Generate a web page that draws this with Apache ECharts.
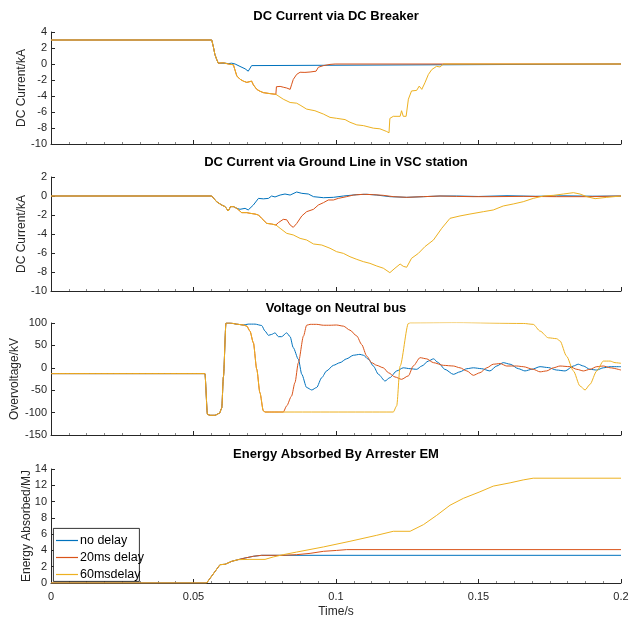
<!DOCTYPE html>
<html>
<head>
<meta charset="utf-8">
<script src="https://cdn.jsdelivr.net/npm/echarts@6/dist/echarts.min.js"></script>
<style>html,body{margin:0;padding:0;background:#fff}#c{width:629px;height:620px}</style>
</head>
<body>
<div id="c"></div>
<script>
// ---------- DATA ----------
const seriesNames = ['no delay', '20ms delay', '60msdelay'];
const titles = ['DC Current via DC Breaker', 'DC Current via Ground Line in VSC station', 'Voltage on Neutral bus', 'Energy Absorbed By Arrester EM'];
const yNames = ['DC Current/kA', 'DC Current/kA', 'Overvoltage/kV', 'Energy Absorbed/MJ'];
const xTicks = [0, 0.05, 0.1, 0.15, 0.2];

// Plot 1: DC current via DC breaker
const brkNoT = [0, 0.0564, 0.0570, 0.0575, 0.0581, 0.0587, 0.0593, 0.0611, 0.0622, 0.0634, 0.0646, 0.0663, 0.0681, 0.0692, 0.0698, 0.0704, 0.0708, 0.2];
const brkNoV = [3, 3, 2.1, 1.2, 0.6, 0.1, 0, 0.1, 0.05, 0.1, 0, -0.3, -0.6, -0.9, -0.7, -0.2, 0, 0];
const brk20T = [0, 0.0564, 0.0570, 0.0575, 0.0581, 0.0587, 0.0593, 0.0605, 0.0622, 0.0640, 0.0652, 0.0663, 0.0675, 0.0687, 0.0692, 0.0704, 0.0710, 0.0722, 0.0733, 0.0745, 0.0768, 0.0789, 0.0791, 0.0804, 0.0815, 0.0827, 0.0839, 0.0844, 0.0850, 0.0862, 0.0874, 0.0891, 0.0909, 0.0930, 0.0938, 0.0956, 0.0979, 0.0997, 0.2];
const brk20V = [3, 3, 2.1, 1.2, 0.6, 0.1, 0.1, 0.15, 0.0, -0.1, -1.5, -1.9, -2.14, -2.3, -2.35, -2.14, -2.6, -3.17, -3.4, -3.58, -3.7, -3.79, -2.84, -2.8, -2.9, -3.0, -3.17, -2.6, -1.93, -1.3, -1.03, -1.05, -1.0, -0.9, -0.41, -0.2, -0.05, 0, 0];
const brk60T = [0, 0.0564, 0.0570, 0.0575, 0.0581, 0.0587, 0.0593, 0.0605, 0.0622, 0.0640, 0.0652, 0.0663, 0.0675, 0.0687, 0.0692, 0.0704, 0.0710, 0.0722, 0.0733, 0.0745, 0.0768, 0.0789, 0.0815, 0.0839, 0.0862, 0.0874, 0.0897, 0.0926, 0.0956, 0.0979, 0.1002, 0.1032, 0.1049, 0.1073, 0.1096, 0.1131, 0.1154, 0.1178, 0.1186, 0.1189, 0.1201, 0.1225, 0.1230, 0.1236, 0.1246, 0.1254, 0.1265, 0.1283, 0.1292, 0.1301, 0.1312, 0.1324, 0.1336, 0.1353, 0.1365, 0.1377, 0.2];
const brk60V = [3, 3, 2.1, 1.2, 0.6, 0.1, 0.1, 0.15, 0.0, -0.1, -1.5, -1.9, -2.14, -2.3, -2.35, -2.14, -2.6, -3.17, -3.4, -3.58, -3.7, -3.79, -4.4, -4.81, -4.9, -5.14, -5.64, -5.84, -6.26, -6.67, -6.79, -6.95, -7.28, -7.61, -7.7, -8.02, -8.1, -8.44, -8.6, -6.8, -6.54, -6.54, -5.84, -6.54, -6.54, -4.4, -3.37, -3.3, -2.76, -3.17, -2.35, -1.32, -0.7, -0.29, -0.37, 0, 0];

// Plot 2: DC current via ground line
const gndNoT = [0, 0.0564, 0.0566, 0.0581, 0.0599, 0.0611, 0.0622, 0.0630, 0.0640, 0.0652, 0.0663, 0.0681, 0.0692, 0.0710, 0.0728, 0.0745, 0.0763, 0.0774, 0.0786, 0.0804, 0.0821, 0.0839, 0.0862, 0.0880, 0.0903, 0.0921, 0.0956, 0.0991, 0.1026, 0.1073, 0.1108, 0.1143, 0.1189, 0.1248, 0.1307, 0.1365, 0.1423, 0.15, 0.16, 0.17, 0.18, 0.19, 0.2];
const gndNoV = [0, 0, 0.2, -0.6, -0.95, -1.12, -1.58, -1.12, -1.12, -1.3, -1.4, -1.3, -1.47, -0.95, -0.25, -0.3, -0.25, 0, -0.1, 0.1, 0.21, 0.1, 0.42, 0.28, 0.21, -0.07, -0.18, -0.14, 0, 0.14, 0.18, 0.1, -0.07, -0.14, -0.07, 0, 0, -0.05, 0.03, -0.03, 0.02, -0.02, 0];
const gnd20T = [0, 0.0564, 0.0566, 0.0581, 0.0599, 0.0611, 0.0622, 0.0630, 0.0640, 0.0652, 0.0669, 0.0687, 0.0698, 0.0716, 0.0728, 0.0739, 0.0757, 0.0774, 0.0789, 0.0798, 0.0815, 0.0827, 0.0839, 0.0850, 0.0862, 0.0880, 0.0897, 0.0921, 0.0938, 0.0956, 0.0973, 0.0991, 0.1008, 0.1037, 0.1061, 0.1096, 0.1131, 0.1166, 0.1201, 0.1248, 0.1307, 0.1365, 0.1423, 0.1482, 0.1540, 0.1657, 0.1774, 0.1891, 0.2];
const gnd20V = [0, 0, 0.2, -0.6, -0.95, -1.12, -1.58, -1.12, -1.12, -1.3, -1.75, -1.75, -1.82, -1.9, -2.0, -2.35, -2.88, -2.95, -3.05, -2.8, -2.46, -2.5, -3.05, -3.3, -2.9, -2.1, -1.65, -1.4, -0.95, -0.7, -0.42, -0.42, -0.25, -0.07, 0.1, 0.18, 0.14, 0.07, -0.07, -0.14, -0.07, 0, -0.04, -0.07, -0.07, -0.04, -0.07, -0.07, 0];
const gnd60T = [0, 0.0564, 0.0566, 0.0581, 0.0599, 0.0611, 0.0622, 0.0630, 0.0640, 0.0652, 0.0669, 0.0687, 0.0698, 0.0716, 0.0728, 0.0739, 0.0757, 0.0774, 0.0789, 0.0804, 0.0827, 0.0850, 0.0874, 0.0897, 0.0921, 0.0950, 0.0979, 0.1002, 0.1026, 0.1049, 0.1073, 0.1096, 0.1119, 0.1143, 0.1166, 0.1189, 0.1207, 0.1225, 0.1236, 0.1248, 0.1265, 0.1289, 0.1312, 0.1342, 0.1371, 0.1400, 0.1435, 0.1470, 0.1517, 0.1552, 0.1587, 0.1622, 0.1657, 0.1692, 0.1728, 0.1763, 0.1798, 0.1833, 0.1856, 0.1880, 0.1909, 0.1950, 0.2];
const gnd60V = [0, 0, 0.2, -0.6, -0.95, -1.12, -1.58, -1.12, -1.12, -1.3, -1.75, -1.75, -1.82, -1.9, -2.0, -2.35, -2.88, -2.95, -3.05, -3.4, -3.93, -4.1, -4.46, -4.63, -5.05, -5.16, -5.5, -5.86, -6.04, -6.39, -6.67, -6.91, -7.09, -7.37, -7.6, -8.07, -7.6, -7.16, -7.4, -7.5, -6.56, -6.04, -5.33, -4.63, -3.4, -2.35, -2.1, -1.9, -1.65, -1.47, -1.05, -0.84, -0.6, -0.25, 0, 0.07, 0.21, 0.35, 0.21, -0.07, -0.28, -0.14, 0];

// Plot 3: voltage on neutral bus
const volNoT = [0, 0.0540, 0.0549, 0.0558, 0.0575, 0.0591, 0.0599, 0.0605, 0.0614, 0.0628, 0.0657, 0.0675, 0.0692, 0.0716, 0.0739, 0.0751, 0.0763, 0.0774, 0.0786, 0.0798, 0.0809, 0.0827, 0.0839, 0.0850, 0.0868, 0.0880, 0.0897, 0.0915, 0.0932, 0.0950, 0.0967, 0.0991, 0.1014, 0.1037, 0.1061, 0.1084, 0.1096, 0.1114, 0.1131, 0.1149, 0.1172, 0.1189, 0.1213, 0.1236, 0.1260, 0.1283, 0.1301, 0.1324, 0.1342, 0.1359, 0.1382, 0.1412, 0.1435, 0.1459, 0.1482, 0.1511, 0.1540, 0.1564, 0.1587, 0.1611, 0.1640, 0.1663, 0.1687, 0.1716, 0.1745, 0.1774, 0.1804, 0.1833, 0.1850, 0.1868, 0.1891, 0.1915, 0.1938, 0.1962, 0.2];
const volNoV = [-13, -13, -104, -106, -106, -101.6, -90, -20, 100, 100, 97, 95.5, 97.5, 97.5, 94.5, 82, 72.5, 74.5, 78, 69.5, 69.5, 78, 69.5, 45, 19, -14.6, -44, -49.5, -44, -22, -7, 5.5, 11.5, 20, 28, 30, 28, 19, 4, -14.6, -29.5, -22, -7, 0, -2, -3.4, 4, 15, 20, 11.5, -3.4, -14.6, -9, -2, 0, -2, -7, 4, 11.5, 8, -2, -7, -3.4, 2.5, 0.5, -5, -7, 4, 8, 4, -3.4, -5, 0, 2.5, 2.5];
const vol20T = [0, 0.0540, 0.0549, 0.0558, 0.0575, 0.0591, 0.0599, 0.0605, 0.0614, 0.0628, 0.0657, 0.0675, 0.0687, 0.0698, 0.0710, 0.0722, 0.0733, 0.0745, 0.0751, 0.0815, 0.0827, 0.0844, 0.0856, 0.0868, 0.0886, 0.0897, 0.0909, 0.0932, 0.0956, 0.0979, 0.1002, 0.1026, 0.1049, 0.1073, 0.1090, 0.1108, 0.1125, 0.1143, 0.1166, 0.1184, 0.1207, 0.1230, 0.1254, 0.1271, 0.1295, 0.1318, 0.1342, 0.1377, 0.1412, 0.1435, 0.1459, 0.1482, 0.1505, 0.1529, 0.1552, 0.1576, 0.1599, 0.1634, 0.1657, 0.1692, 0.1716, 0.1739, 0.1763, 0.1786, 0.1821, 0.1845, 0.1868, 0.1891, 0.1915, 0.1938, 0.1962, 0.2];
const vol20V = [-13, -13, -104, -106, -106, -101.6, -90, -20, 100, 100, 97, 95.5, 93, 82, 56, -3.4, -55.5, -96, -98.7, -98.7, -85, -63, -33, 11.5, 71, 95, 97, 97, 95, 95, 95.5, 93, 84, 71, 52, 26, 11.5, 5.5, 0, -11, -20.5, -25.7, -18, 4, 22.6, 20, 11.5, 5.5, 4, 0, -7, -16.8, -11, 0, 8, 9.5, 4, 4, 2.5, -3.4, -9, -7, 0, 4, 2.5, -3.4, -7, -3.4, 2.5, 4, 0, -5];
const vol60T = [0, 0.0540, 0.0549, 0.0558, 0.0575, 0.0591, 0.0599, 0.0605, 0.0614, 0.0628, 0.0657, 0.0675, 0.0687, 0.0698, 0.0710, 0.0722, 0.0733, 0.0745, 0.0751, 0.1201, 0.1213, 0.1225, 0.1254, 0.1260, 0.1423, 0.1657, 0.1692, 0.1716, 0.1745, 0.1774, 0.1786, 0.1809, 0.1833, 0.1856, 0.1874, 0.1891, 0.1915, 0.1938, 0.1962, 0.1979, 0.2];
const vol60V = [-13, -13, -104, -106, -106, -101.6, -90, -20, 100, 100, 97, 95.5, 93, 82, 56, -3.4, -55.5, -96, -98.7, -98.7, -85, 4, 99, 100.5, 101, 99, 97, 82, 67, 65, 60, 26, -7, -40.6, -49.5, -37, -7, 15, 15, 11.5, 10];

// Plot 4: energy absorbed by arrester
const engNoT = [0, 0.0546, 0.0593, 0.0611, 0.0634, 0.0657, 0.0681, 0.0710, 0.0739, 0.2];
const engNoV = [0, 0, 2.25, 2.3, 2.66, 2.87, 3.07, 3.28, 3.4, 3.4];
const eng20T = [0, 0.0546, 0.0593, 0.0611, 0.0634, 0.0657, 0.0681, 0.0710, 0.0739, 0.0815, 0.0862, 0.0909, 0.0956, 0.1002, 0.1037, 0.2];
const eng20V = [0, 0, 2.25, 2.3, 2.66, 2.87, 3.07, 3.28, 3.4, 3.4, 3.48, 3.64, 3.89, 4.0, 4.1, 4.1];
const eng60T = [0, 0.0546, 0.0593, 0.0611, 0.0634, 0.0657, 0.0698, 0.0751, 0.0780, 0.0815, 0.0862, 0.0956, 0.1049, 0.1143, 0.1201, 0.1260, 0.1307, 0.1353, 0.1400, 0.1447, 0.1505, 0.1552, 0.1611, 0.1657, 0.1692, 0.2];
const eng60V = [0, 0, 2.25, 2.3, 2.66, 2.87, 2.9, 2.9, 3.2, 3.48, 3.8, 4.43, 5.12, 5.86, 6.35, 6.35, 7.17, 8.3, 9.55, 10.4, 11.2, 11.9, 12.3, 12.66, 12.87, 12.87];

const yMin = [-10, -10, -150, 0];
const yMax = [4, 2, 100, 14];
const yStep = [2, 2, 50, 2];

// ---------- CHART ----------
const colors = ['#0072BD', '#D95319', '#EDB120'];
const curves = [
  [[brkNoT, brkNoV], [brk20T, brk20V], [brk60T, brk60V]],
  [[gndNoT, gndNoV], [gnd20T, gnd20V], [gnd60T, gnd60V]],
  [[volNoT, volNoV], [vol20T, vol20V], [vol60T, vol60V]],
  [[engNoT, engNoV], [eng20T, eng20V], [eng60T, eng60V]]
];
const zip = (t, v) => t.map((x, i) => [x, v[i]]);

const gridTops = [32, 177, 323, 469];
const gridHeights = [112, 114, 112, 114];
const titleTops = [9.5, 155.5, 301.5, 447.5];
const nameGaps = [23, 23, 30, 18];
const font = 'Liberation Sans, Arial, Helvetica, sans-serif';
const axisColor = '#262626';

const grid = gridTops.map((t, i) => ({ left: 51, right: 8, top: t, height: gridHeights[i], containLabel: false, outerBoundsMode: 'none' }));
const title = titles.map((s, i) => ({
  text: s, left: 336, top: titleTops[i], textAlign: 'center', padding: 0,
  textStyle: { fontFamily: font, fontSize: 13, fontWeight: 'bold', color: '#000' }
}));
const xAxis = grid.map((g, i) => ({
  type: 'value', gridIndex: i, min: 0, max: 0.2, interval: 0.05,
  axisLine: { show: true, onZero: false, lineStyle: { color: axisColor, width: 1 } },
  axisTick: { show: true, inside: true, length: 4, lineStyle: { color: axisColor } },
  minorTick: { show: true, splitNumber: 8, length: 2, lineStyle: { color: '#888' } },
  splitLine: { show: false },
  axisLabel: {
    show: i === 3, fontFamily: font, fontSize: 11, color: axisColor, margin: 8,
    formatter: v => String(+v.toFixed(2))
  },
  name: i === 3 ? 'Time/s' : '', nameLocation: 'middle', nameGap: 23, nameMoveOverlap: false,
  nameTextStyle: { fontFamily: font, fontSize: 12, color: axisColor }
}));
const yAxis = grid.map((g, i) => ({
  type: 'value', gridIndex: i, min: yMin[i], max: yMax[i], interval: yStep[i],
  axisLine: { show: true, onZero: false, lineStyle: { color: axisColor, width: 1 } },
  axisTick: { show: true, inside: true, length: 4, lineStyle: { color: axisColor } },
  splitLine: { show: false },
  axisLabel: { fontFamily: font, fontSize: 11, color: axisColor, margin: 4 },
  name: yNames[i], nameLocation: 'middle', nameGap: nameGaps[i], nameRotate: 90, nameMoveOverlap: false,
  nameTextStyle: { fontFamily: font, fontSize: 12, color: axisColor }
}));
const series = [];
curves.forEach((grp, gi) => {
  grp.forEach((c, si) => {
    series.push({
      name: seriesNames[si], type: 'line', xAxisIndex: gi, yAxisIndex: gi,
      data: zip(c[0], c[1]), symbol: 'none', showSymbol: false,
      smooth: gi === 2 ? 0.25 : false, smoothMonotone: 'x',
      lineStyle: { color: colors[si], width: 1 }, itemStyle: { color: colors[si] },
      animation: false
    });
  });
});

const chart = echarts.init(document.getElementById('c'), null, { renderer: 'canvas' });
chart.setOption({
  animation: false,
  backgroundColor: '#fff',
  title, grid, xAxis, yAxis, series,
  graphic: [{
    type: 'rect', left: 53, top: 528, z: 3,
    shape: { width: 86, height: 53 },
    style: { fill: '#fff', stroke: '#000', lineWidth: 0.8 }
  }],
  legend: {
    data: seriesNames, orient: 'vertical', left: 56, top: 534, z: 5,
    icon: 'rect', itemWidth: 22, itemHeight: 1.2, itemGap: 4,
    padding: 0,
    textStyle: { fontFamily: font, fontSize: 12.5, color: '#000', padding: [0, 0, 0, -3] }
  }
});
</script>
</body>
</html>
